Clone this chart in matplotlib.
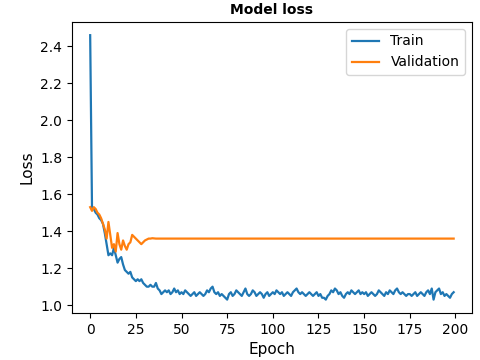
import numpy as np
import matplotlib.pyplot as plt

# ==========================================================
# DATA
# ==========================================================

train_loss = [
    2.46, 1.53, 1.52, 1.50, 1.49, 1.47, 1.46, 1.44, 1.39, 1.33,
    1.27, 1.28, 1.27, 1.31, 1.27, 1.23, 1.25, 1.26, 1.22, 1.19,
    1.18, 1.17, 1.18, 1.15, 1.14, 1.13, 1.14, 1.13, 1.14, 1.12,
    1.11, 1.10, 1.10, 1.11, 1.10, 1.10, 1.12, 1.09, 1.08, 1.06,
    1.07, 1.08, 1.07, 1.08, 1.06, 1.07, 1.09, 1.07, 1.08, 1.06,
    1.07, 1.06, 1.08, 1.07, 1.06, 1.05, 1.06, 1.07, 1.05, 1.06,
    1.07, 1.06, 1.05, 1.06, 1.08, 1.07, 1.09, 1.10, 1.07, 1.06,
    1.07, 1.05, 1.06, 1.05, 1.04, 1.03, 1.06, 1.07, 1.05, 1.06,
    1.08, 1.07, 1.06, 1.05, 1.07, 1.09, 1.06, 1.05, 1.06, 1.08,
    1.07, 1.05, 1.06, 1.07, 1.06, 1.04, 1.06, 1.07, 1.05, 1.06,
    1.07, 1.06, 1.08, 1.07, 1.06, 1.07, 1.05, 1.06, 1.07, 1.06,
    1.05, 1.07, 1.08, 1.09, 1.07, 1.06, 1.07, 1.06, 1.05, 1.06,
    1.07, 1.06, 1.05, 1.06, 1.07, 1.05, 1.06, 1.04, 1.04, 1.03,
    1.05, 1.06, 1.08, 1.07, 1.09, 1.08, 1.06, 1.07, 1.05, 1.04,
    1.06, 1.07, 1.06, 1.08, 1.07, 1.06, 1.07, 1.08, 1.06, 1.07,
    1.06, 1.07, 1.05, 1.06, 1.07, 1.06, 1.05, 1.06, 1.08, 1.07,
    1.06, 1.05, 1.07, 1.06, 1.08, 1.07, 1.06, 1.08, 1.09, 1.07,
    1.06, 1.07, 1.06, 1.05, 1.06, 1.06, 1.05, 1.06, 1.07, 1.05,
    1.06, 1.07, 1.06, 1.05, 1.07, 1.08, 1.06, 1.09, 1.03, 1.07,
    1.08, 1.09, 1.06, 1.07, 1.05, 1.06, 1.05, 1.04, 1.06, 1.07,
]

val_head = [
    1.53, 1.51, 1.53, 1.52, 1.50, 1.49, 1.47, 1.44, 1.41, 1.36,
    1.45, 1.38, 1.31, 1.33, 1.29, 1.39, 1.33, 1.30, 1.35, 1.32,
    1.30, 1.33, 1.34, 1.38, 1.37, 1.36, 1.35, 1.34, 1.33, 1.34,
    1.35, 1.355, 1.36, 1.36, 1.362, 1.361,
]
val_loss = val_head + [1.36] * (len(train_loss) - len(val_head))

epochs = np.arange(len(train_loss))

# ==========================================================
# PLOT
# ==========================================================

fig = plt.figure(figsize=(4.8, 3.6), dpi=100)
ax = fig.add_axes([0.15, 0.131, 0.833, 0.808])

ax.plot(epochs, train_loss, color="#1f77b4", linewidth=1.6, label="Train")
ax.plot(epochs, val_loss, color="#ff7f0e", linewidth=1.6, label="Validation")

ax.set_title("Model loss", fontweight="bold", fontsize=10)
ax.set_xlabel("Epoch", fontsize=11)
ax.set_ylabel("Loss", fontsize=11)

ax.set_xticks([0, 25, 50, 75, 100, 125, 150, 175, 200])
ax.set_yticks([1.0, 1.2, 1.4, 1.6, 1.8, 2.0, 2.2, 2.4])
ax.tick_params(labelsize=10)

ax.legend(loc="upper right", fontsize=10)

fig.savefig("out.png", dpi=100)
